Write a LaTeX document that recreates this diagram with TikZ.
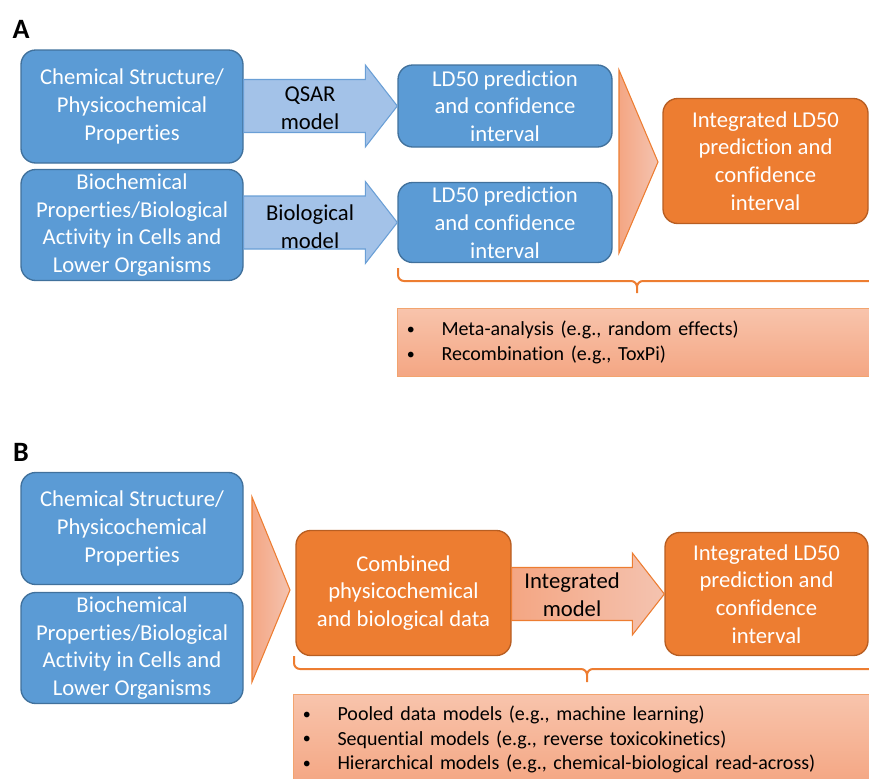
\documentclass[tikz,border=0pt]{standalone}
\usepackage{fontspec}
\setmainfont{Carlito}[Ligatures=NoCommon]
\usetikzlibrary{calc}
\definecolor{BoxBlue}{HTML}{5B9BD5}
\definecolor{BoxBlueLine}{HTML}{41719C}
\definecolor{ArrowBlue}{HTML}{A3C2E8}
\definecolor{ArrowBlueLine}{HTML}{6A9FD6}
\definecolor{BoxOrange}{HTML}{ED7D31}
\definecolor{BoxOrangeLine}{HTML}{B85E22}
\definecolor{LineOrange}{HTML}{ED7D31}
\definecolor{SalmonDeep}{HTML}{F4A683}
\definecolor{SalmonPale}{HTML}{F4C3B0}
\definecolor{ListTop}{HTML}{F8C4AC}
\definecolor{ListBottom}{HTML}{F4A683}

\newcommand{\blocktxt}{\fontsize{17}{20.8}\selectfont}
\newcommand{\listtxt}{\fontsize{15}{18.6}\selectfont}
\newcommand{\paneltxt}{\fontsize{21}{24}\selectfont\bfseries}
\newcommand{\itm}{\makebox[27pt][l]{\hspace{1pt}\raisebox{0.9pt}{\scalebox{0.8}{\textbullet}}}}

\begin{document}
\begin{tikzpicture}[
    x=0.75pt, y=-0.75pt,
    panel/.style={font=\paneltxt, inner sep=0pt},
    bluebox/.style={draw=BoxBlueLine, fill=BoxBlue, line width=1pt, rounded corners=11pt, text=white, align=center, font=\blocktxt, inner sep=2pt, minimum width=166.5pt},
    orangebox/.style={draw=BoxOrangeLine, fill=BoxOrange, line width=1pt, rounded corners=11pt, text=white, align=center, font=\blocktxt, inner sep=2pt},
    armlabel/.style={font=\blocktxt, align=center, inner sep=0pt},
    fatarrow/.style={to path={($(\tikztostart.east |- \tikztotarget.west)+(0,-26.5)$) -- ($(\tikztotarget.west)+(-32,-26.5)$) -- ++(0,-14.5) -- (\tikztotarget.west) -- ($(\tikztotarget.west)+(-32,41)$) -- ++(0,-14.5) -- ($(\tikztostart.east |- \tikztotarget.west)+(0,26.5)$) -- cycle}},
    bluearrow/.style={fatarrow, draw=ArrowBlueLine, fill=ArrowBlue, line width=0.8pt},
    salmonarrow/.style={fatarrow, draw=LineOrange, left color=SalmonDeep, right color=SalmonPale, line width=0.8pt},
    chevron/.style={draw=LineOrange, left color=SalmonDeep, right color=SalmonPale, line width=0.8pt},
    curly/.style={draw=LineOrange, line width=1.5pt, rounded corners=4.5pt},
    listbox/.style={draw=LineOrange!70, top color=ListTop, bottom color=ListBottom, line width=0.8pt, anchor=north west, align=left, font=\listtxt, inner xsep=6pt, inner ysep=0pt}
  ]
  \useasboundingbox (0,0) rectangle (869,779);
  \clip (0,0) rectangle (869,779);

  % panel A
  \node[panel] (labA) at (21,29) {A};
  \node[bluebox, minimum height=84.75pt] (chemA) at (132,106.5) {Chemical Structure/\\Physicochemical\\Properties};
  \node[bluebox, minimum height=83.25pt] (bioA) at (132,225) {Biochemical\\Properties/Biological\\Activity in Cells and\\Lower Organisms};
  \node[bluebox, minimum width=160.5pt, minimum height=61.5pt] (ldQsar) at (505,106) {LD50 prediction\\and confidence\\interval};
  \node[bluebox, minimum width=160.5pt, minimum height=60pt] (ldBio) at (505,222.5) {LD50 prediction\\and confidence\\interval};
  \node[orangebox, minimum width=153.75pt, minimum height=93.75pt] (intA) at (765.5,161) {Integrated LD50\\prediction and\\confidence\\interval};

  \draw[bluearrow] (chemA) to (ldQsar);
  \draw[bluearrow] (bioA) to (ldBio);
  \node[armlabel] (qsar) at (310,108.5) {QSAR\\model};
  \node[armlabel] (biomod) at (310,226.5) {Biological\\model};
  \draw[chevron] (619,70) -- (658,162) -- (619,253) -- cycle;

  \draw[curly] (398,268) |- (637,281) -- (637,293) (876,268) |- (637,281) -- (637,293);
  \node[listbox, text width=350pt, minimum height=51pt] (mergeA) at (397,308)
    {\itm Meta-analysis (e.g., random effects)\\\itm Recombination (e.g., ToxPi)};

  % panel B
  \node[panel] (labB) at (21,452) {B};
  \node[bluebox, minimum height=84pt] (chemB) at (132,528.5) {Chemical Structure/\\Physicochemical\\Properties};
  \node[bluebox, minimum height=83.25pt] (bioB) at (132,648) {Biochemical\\Properties/Biological\\Activity in Cells and\\Lower Organisms};
  \draw[chevron] (252,497) -- (290,590) -- (252,682) -- cycle;
  \node[orangebox, minimum width=161.25pt, minimum height=93.75pt] (combined) at (403.5,593) {Combined\\physicochemical\\and biological data};
  \node[orangebox, minimum width=152.25pt, minimum height=92.25pt] (intB) at (766.5,594) {Integrated LD50\\prediction and\\confidence\\interval};
  \draw[salmonarrow] (combined) to (intB);
  \node[armlabel] (intmod) at (572,594.5) {Integrated\\model};

  \draw[curly] (294,656) |- (587,669) -- (587,682) (880,656) |- (587,669) -- (587,682);
  \node[listbox, text width=428pt, minimum height=67.5pt] (mergeB) at (293,694)
    {\itm Pooled data models (e.g., machine learning)\\\itm Sequential models (e.g., reverse toxicokinetics)\\\itm Hierarchical models (e.g., chemical-biological read-across)};
\end{tikzpicture}
\end{document}
